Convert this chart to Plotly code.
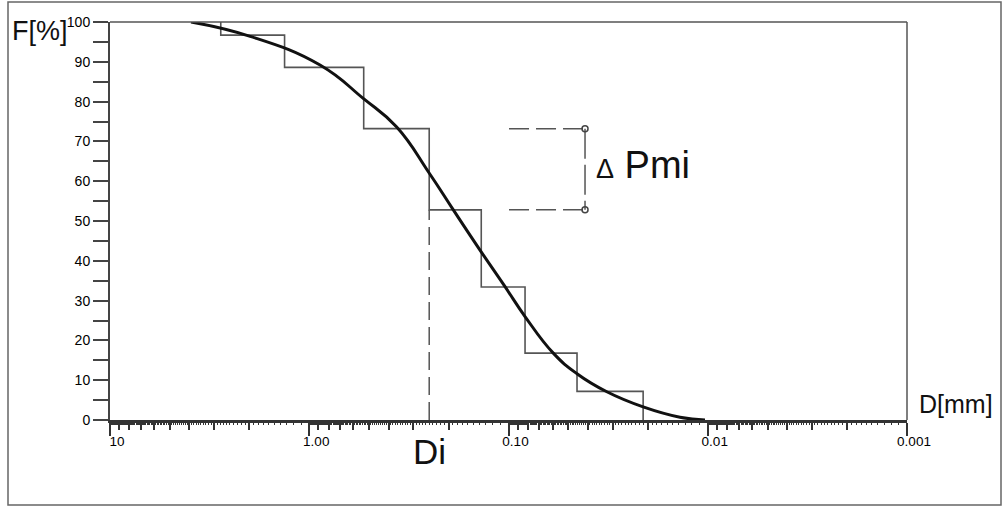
import numpy as np
import plotly.graph_objects as go

# ---- data ----
# staircase (histogram of cumulative passing): class boundaries D [mm] and F [%] levels
step_bounds = [2.78, 1.33, 0.533, 0.25, 0.137, 0.0826, 0.0453, 0.0211]
step_levels = [100, 96.7, 88.6, 73.2, 52.8, 33.4, 16.8, 7.2, 0]

# smooth cumulative curve
curve_d = [3.92, 1.98, 0.883, 0.536, 0.364, 0.2497, 0.1892, 0.139, 0.1041,
           0.0826, 0.0596, 0.0455, 0.0321, 0.0211, 0.01378, 0.01032]
curve_f = [100, 96.4, 89.2, 80.8, 73.6, 62.0, 52.8, 42.7, 33.5,
           26.0, 16.8, 11.7, 7.1, 3.3, 0.7, 0]

# annotation values
di_value = 0.25          # D_i
di_level = 52.8
pmi_x_start = 0.0994
pmi_x = 0.0413
pmi_hi = 73.2
pmi_lo = 52.8

x_major = [10, 1, 0.1, 0.01, 0.001]
x_major_text = ["10", "1.00", "0.10", "0.01", "0.001"]
y_major = list(range(0, 101, 10))
y_minor = list(range(5, 100, 10))

# derived tick positions (log scale subdivisions)
decades = [1, 0.1, 0.01, 0.001]
x_medium = [k * d for d in decades for k in range(2, 10)]
x_tiny = [round(k / 10, 1) * d for d in decades for k in range(11, 100) if k % 10 != 0]

FONT = "Arial, Liberation Sans, sans-serif"

fig = go.Figure()

# staircase
fig.add_trace(go.Scatter(
    x=step_bounds + [step_bounds[-1]], y=step_levels,
    mode="lines", line=dict(color="#555", width=1.6, shape="vh"),
    hoverinfo="skip", showlegend=False))

# smooth curve
fig.add_trace(go.Scatter(
    x=curve_d, y=curve_f, mode="lines",
    line=dict(color="#111", width=3, shape="spline", smoothing=1.3),
    hoverinfo="skip", showlegend=False))

# Di dashed vertical
fig.add_trace(go.Scatter(
    x=[di_value, di_value], y=[0, di_level], mode="lines",
    line=dict(color="#555", width=1.5, dash="18px,7px"),
    hoverinfo="skip", showlegend=False))

# Delta Pmi dashed lines
for lvl in (pmi_hi, pmi_lo):
    fig.add_trace(go.Scatter(
        x=[pmi_x_start, pmi_x], y=[lvl, lvl], mode="lines",
        line=dict(color="#555", width=1.5, dash="20px,7px"),
        hoverinfo="skip", showlegend=False))
fig.add_trace(go.Scatter(
    x=[pmi_x, pmi_x], y=[pmi_hi, pmi_lo], mode="lines+markers",
    line=dict(color="#555", width=1.5, dash="30px,6px"),
    marker=dict(symbol="circle-open", size=6, color="#444", line=dict(width=1.5)),
    hoverinfo="skip", showlegend=False))

# tiny ticks axis overlay
fig.add_trace(go.Scatter(x=[1], y=[0], xaxis="x2", mode="markers",
                         marker=dict(opacity=0), hoverinfo="skip", showlegend=False))

W, H = 1005, 508
L, R, T, B = 110, 98, 22, 88
pw, ph = W - L - R, H - T - B

def px(xp):
    return (xp - L) / pw

def py(yp):
    return (H - B - yp) / ph

fig.update_layout(
    width=W, height=H,
    margin=dict(l=L, r=R, t=T, b=B, autoexpand=False),
    paper_bgcolor="white", plot_bgcolor="white",
    font=dict(family=FONT, color="#222"),
    xaxis=dict(
        type="log", range=[1, -3], showgrid=False, zeroline=False,
        showline=True, linecolor="#333", linewidth=2.5,
        ticks="outside", ticklen=13, tickwidth=2, tickcolor="#333",
        tickvals=x_major, ticktext=x_major_text,
        tickfont=dict(size=13.5, family=FONT, color="#000"),
        ticklabelshift=-7, ticklabelstandoff=-6,
        minor=dict(tickvals=x_medium, ticks="outside", ticklen=7, tickwidth=1.5,
                   tickcolor="#333", showgrid=False),
        automargin=False,
    ),
    xaxis2=dict(
        type="log", range=[1, -3], overlaying="x", anchor="y", side="bottom",
        showgrid=False, zeroline=False, showline=False, showticklabels=False,
        ticks="outside", ticklen=4, tickwidth=1, tickcolor="#333",
        tickvals=x_tiny, automargin=False,
    ),
    yaxis=dict(
        range=[0, 100], showgrid=False, zeroline=False,
        showline=True, linecolor="#444", linewidth=2,
        ticks="outside", ticklen=15, tickwidth=2, tickcolor="#444",
        tickvals=y_major, tickfont=dict(size=14, family=FONT, color="#000"),
        minor=dict(tickvals=y_minor, ticks="outside", ticklen=15, tickwidth=2,
                   tickcolor="#444", showgrid=False),
        automargin=False,
    ),
    shapes=[
        # plot frame top and right
        dict(type="line", xref="paper", yref="paper", x0=0, x1=1, y0=1, y1=1,
             line=dict(color="#555", width=1.5)),
        dict(type="line", xref="paper", yref="paper", x0=1, x1=1, y0=0, y1=1,
             line=dict(color="#555", width=1.5)),
        # outer border
        dict(type="rect", xref="paper", yref="paper",
             x0=px(8), x1=px(1001), y0=py(505), y1=py(2),
             line=dict(color="#666", width=1.5)),
    ],
    annotations=[
        dict(text="F[%]", xref="paper", yref="paper", x=px(10), y=py(31),
             xanchor="left", yanchor="middle", showarrow=False,
             font=dict(size=27, family=FONT, color="#111")),
        dict(text="D[mm]", xref="paper", yref="paper", x=px(917), y=py(404),
             xanchor="left", yanchor="middle", showarrow=False,
             font=dict(size=25, family=FONT, color="#111")),
        dict(text="Di", xref="x", yref="paper", x=np.log10(di_value), y=py(452),
             xanchor="center", yanchor="middle", showarrow=False,
             font=dict(size=35, family=FONT, color="#111")),
        dict(text="<span style='font-size:27px'>Δ</span> Pmi", xref="paper", yref="paper",
             x=px(594), y=py(165), xanchor="left", yanchor="middle", showarrow=False,
             font=dict(size=38, family=FONT, color="#111")),
    ],
)

fig.write_html("out.html", config={"displayModeBar": False},
               post_script="document.body.style.margin='0';document.body.style.padding='0';")
